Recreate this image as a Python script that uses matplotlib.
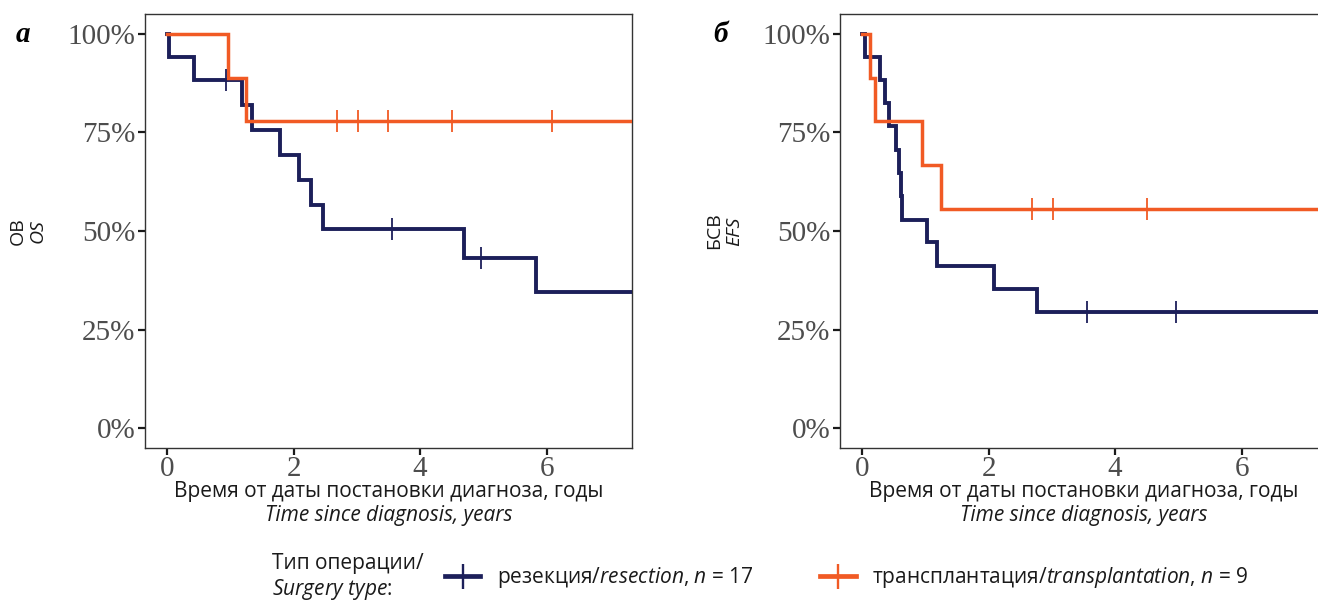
import matplotlib
matplotlib.use("Agg")
import matplotlib.pyplot as plt
from matplotlib.lines import Line2D
import numpy as np

plt.rcParams['mathtext.fontset'] = 'custom'
plt.rcParams['mathtext.rm'] = 'Open Sans'
plt.rcParams['mathtext.it'] = 'Open Sans:italic'

# ---- data ----
# Panel a: overall survival (OS)
os_res_t = [0, 0.03, 0.43, 1.19, 1.34, 1.78, 2.09, 2.27, 2.46, 4.69, 5.83, 8.0]
os_res_s = [1.0, 0.941, 0.882, 0.819, 0.756, 0.693, 0.630, 0.567, 0.504, 0.432, 0.346, 0.346]
os_res_cens = [0.93, 3.55, 4.96]
os_tr_t = [0, 0.96, 1.245, 8.0]
os_tr_s = [1.0, 0.889, 0.778, 0.778]
os_tr_cens = [2.68, 3.02, 3.49, 4.51, 6.08]

# Panel b: event-free survival (EFS)
efs_res_t = [0, 0.05, 0.28, 0.36, 0.43, 0.54, 0.58, 0.61, 0.63, 1.02, 1.19, 2.09, 2.77, 8.0]
efs_res_s = [1.0, 0.941, 0.882, 0.824, 0.765, 0.706, 0.647, 0.588, 0.529, 0.471, 0.412, 0.353, 0.294, 0.294]
efs_res_cens = [3.55, 4.97]
efs_tr_t = [0, 0.12, 0.21, 0.94, 1.24, 8.0]
efs_tr_s = [1.0, 0.889, 0.778, 0.667, 0.556, 0.556]
efs_tr_cens = [2.68, 3.02, 4.51]

x_ticks = [0, 2, 4, 6]
y_ticks = [0, 0.25, 0.5, 0.75, 1.0]
y_ticklabels = ["0%", "25%", "50%", "75%", "100%"]

NAVY = "#1c1f5a"
ORANGE = "#f15a24"
SANS = "Open Sans"
SERIF = "Liberation Serif"
TXT = "#1a1a1a"

W, H = 1318, 604
fig = plt.figure(figsize=(W / 100, H / 100), dpi=100)


def px_axes(left, top, right, bottom):
    return fig.add_axes([left / W, (H - bottom) / H, (right - left) / W, (bottom - top) / H])


def step_value(t, s, x):
    idx = np.searchsorted(t, x, side='right') - 1
    return s[idx]


def draw_panel(ax, curves):
    for t, s, cens, color, lw in curves:
        ax.step(t, s, where='post', color=color, lw=lw, solid_joinstyle='miter', zorder=3)
        cy = [step_value(np.array(t), np.array(s), c) for c in cens]
        ax.plot(cens, cy, ls='none', marker='|', ms=16, mew=1.3, color=color, zorder=4)
    ax.set_xlim(-0.35, 7.35)
    ax.set_ylim(-0.05, 1.05)
    ax.set_xticks(x_ticks)
    ax.set_xticklabels([str(v) for v in x_ticks])
    ax.set_yticks(y_ticks)
    ax.set_yticklabels(y_ticklabels)
    for sp in ax.spines.values():
        sp.set_color("#333333")
        sp.set_linewidth(1.0)
    ax.tick_params(axis='both', length=5, width=1.6, color="#1a1a1a",
                   labelcolor="#4d4d4d", labelsize=21, pad=2)
    ax.tick_params(axis='x', pad=1)
    for lab in ax.get_xticklabels() + ax.get_yticklabels():
        lab.set_fontfamily(SERIF)


axa = px_axes(145, 14, 632, 448)
draw_panel(axa, [(os_res_t, os_res_s, os_res_cens, NAVY, 2.8),
                 (os_tr_t, os_tr_s, os_tr_cens, ORANGE, 2.5)])
axb = px_axes(840, 14, 1327, 448)
draw_panel(axb, [(efs_res_t, efs_res_s, efs_res_cens, NAVY, 2.8),
                 (efs_tr_t, efs_tr_s, efs_tr_cens, ORANGE, 2.5)])


def ftext(x, y, s, **kw):
    return fig.text(x / W, 1 - y / H, s, **kw)


# panel letters
ftext(16, 35, "а", fontfamily=SERIF, fontweight='bold', fontstyle='italic',
      fontsize=21, ha='left', va='center', color='black')
ftext(713, 35, "б", fontfamily=SERIF, fontweight='bold', fontstyle='italic',
      fontsize=21, ha='left', va='center', color='black')

# y labels
ftext(18, 231, "ОВ", fontfamily=SANS, fontsize=14, rotation=90, ha='center', va='center',
      color=TXT)
ftext(38, 231, "OS", fontfamily=SANS, fontstyle='italic', fontsize=14, rotation=90,
      ha='center', va='center', color=TXT)
ftext(714, 231, "БСВ", fontfamily=SANS, fontsize=14, rotation=90, ha='center', va='center',
      color=TXT)
ftext(734, 231, "EFS", fontfamily=SANS, fontstyle='italic', fontsize=14, rotation=90,
      ha='center', va='center', color=TXT)

# x labels
for cx in (388.5, 1083.5):
    ftext(cx, 492, "Время от даты постановки диагноза, годы", fontfamily=SANS,
          fontsize=15, ha='center', va='center', color=TXT)
    ftext(cx, 515, "Time since diagnosis, years", fontfamily=SANS, fontstyle='italic',
          fontsize=15, ha='center', va='center', color=TXT)

# legend
ftext(272, 564, "Тип операции/", fontfamily=SANS, fontsize=15, ha='left', va='center',
      color=TXT)
ftext(272, 590, r"$\it{Surgery\ type}$:", fontfamily=SANS, fontsize=15, ha='left',
      va='center', color=TXT)

handles = [Line2D([], [], color=NAVY, lw=3.4, marker='|', ms=18, mew=1.7),
           Line2D([], [], color=ORANGE, lw=3.4, marker='|', ms=18, mew=1.7)]
labels = [r"резекция/$\it{resection}$, $\it{n}$ = 17",
          r"трансплантация/$\it{transplantation}$, $\it{n}$ = 9"]
leg = fig.legend(handles, labels, ncol=2, loc='center left',
                 bbox_to_anchor=(445 / W, 1 - 578 / H), frameon=False,
                 prop={'family': SANS, 'size': 15}, handlelength=1.7,
                 handletextpad=0.8, columnspacing=3.2, borderaxespad=0, borderpad=0)
for txt in leg.get_texts():
    txt.set_color(TXT)

fig.savefig("out.png", dpi=100)
